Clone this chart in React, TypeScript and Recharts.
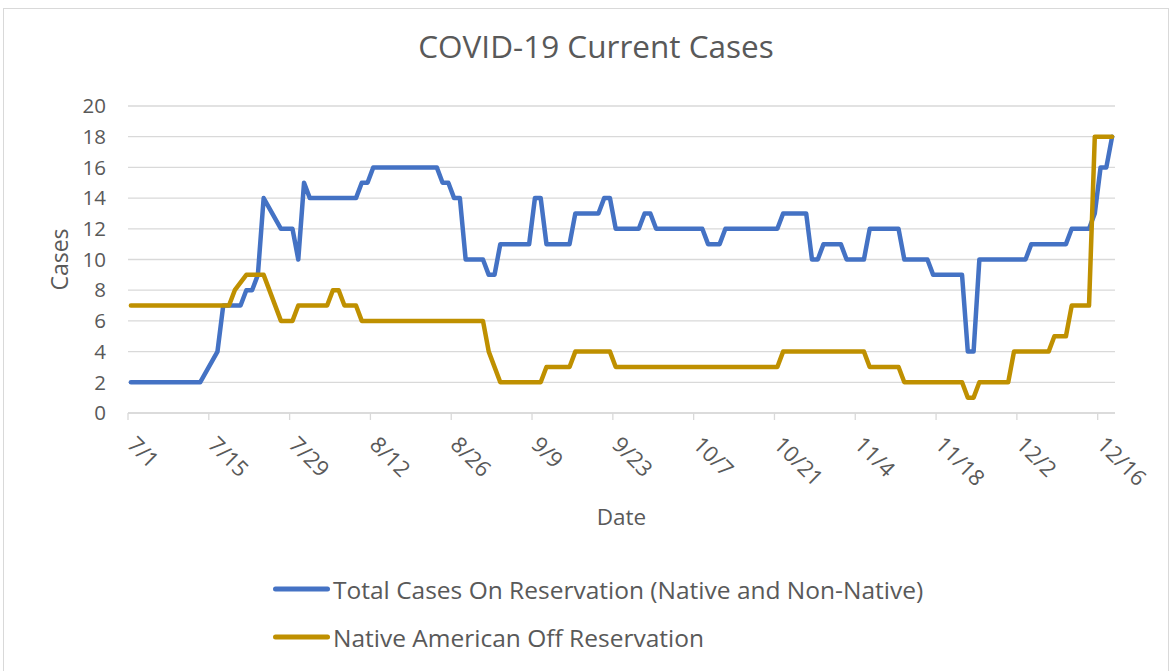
import React from 'react';
import { LineChart, Line, XAxis, YAxis, CartesianGrid, Legend, Label } from 'recharts';

// Day offsets counted from 7/1
const totalDays = [0, 12, 15, 16, 19, 20, 21, 22, 23, 26, 28, 29, 30, 31, 39, 40, 41, 42, 53, 54, 55, 56, 57, 58, 61, 62, 63, 64, 69, 70, 71, 72, 76, 77, 81, 82, 83, 84, 88, 89, 90, 91, 99, 100, 102, 103, 112, 113, 117, 118, 119, 120, 123, 124, 127, 128, 133, 134, 138, 139, 144, 145, 146, 147, 155, 156, 162, 163, 166, 167, 168, 169, 170];
const totalCases = [2, 2, 4, 7, 7, 8, 8, 9, 14, 12, 12, 10, 15, 14, 14, 15, 15, 16, 16, 15, 15, 14, 14, 10, 10, 9, 9, 11, 11, 14, 14, 11, 11, 13, 13, 14, 14, 12, 12, 13, 13, 12, 12, 11, 11, 12, 12, 13, 13, 10, 10, 11, 11, 10, 10, 12, 12, 10, 10, 9, 9, 4, 4, 10, 10, 11, 11, 12, 12, 13, 16, 16, 18];

const nativeDays = [0, 17, 18, 20, 23, 26, 28, 29, 34, 35, 36, 37, 39, 40, 61, 62, 64, 71, 72, 76, 77, 83, 84, 112, 113, 127, 128, 133, 134, 144, 145, 146, 147, 152, 153, 159, 160, 162, 163, 166, 167, 170];
const nativeCases = [7, 7, 8, 9, 9, 6, 6, 7, 7, 8, 8, 7, 7, 6, 6, 4, 2, 2, 3, 3, 4, 4, 3, 3, 4, 4, 3, 3, 2, 2, 1, 1, 2, 2, 4, 4, 5, 5, 7, 7, 18, 18];

const tickDays = [0, 14, 28, 42, 56, 70, 84, 98, 112, 126, 140, 154, 168];
const tickLabels = ['7/1', '7/15', '7/29', '8/12', '8/26', '9/9', '9/23', '10/7', '10/21', '11/4', '11/18', '12/2', '12/16'];
const yTicks = [0, 2, 4, 6, 8, 10, 12, 14, 16, 18, 20];

const seriesNames = ['Total Cases On Reservation (Native and Non-Native)', 'Native American Off Reservation'];
const seriesColors = ['#4472C4', '#BF9000'];

// points sit in the middle of each day slot on the date axis
const totalData = totalDays.map((d, i) => ({ x: d + 0.5, y: totalCases[i] }));
const nativeData = nativeDays.map((d, i) => ({ x: d + 0.5, y: nativeCases[i] }));

const FONT = '"Open Sans", sans-serif';
const TEXT = '#595959';
const GRID = '#d9d9d9';

const DateTick = (props: any) => {
  const { x, y, payload } = props;
  const idx = tickDays.indexOf(payload.value);
  const label = idx >= 0 ? tickLabels[idx] : '';
  const ox = x - 2;
  const oy = y + 24;
  return (
    <text
      x={ox}
      y={oy}
      transform={`rotate(45, ${ox}, ${oy})`}
      textAnchor="start"
      fill={TEXT}
      fontSize={22}
      fontFamily={FONT}
    >
      {label}
    </text>
  );
};

const renderLegend = () => (
  <div>
    {seriesNames.map((name, i) => (
      <div key={name} style={{ display: 'flex', alignItems: 'center', height: 48 }}>
        <svg width={63} height={10} style={{ display: 'block' }}>
          <line x1={5.5} y1={5} x2={57.5} y2={5} stroke={seriesColors[i]} strokeWidth={5} strokeLinecap="round" />
        </svg>
        <span style={{ fontSize: 24.5, color: TEXT, fontFamily: FONT, whiteSpace: 'nowrap' }}>{name}</span>
      </div>
    ))}
  </div>
);

export default function App() {
  return (
    <div style={{ position: 'absolute', left: 0, top: 0, width: 1174, height: 671, overflow: 'hidden', background: '#fff' }}>
      <div
        style={{
          position: 'absolute',
          left: 3,
          top: 8,
          width: 1166,
          height: 720,
          border: `1px solid ${GRID}`,
          boxSizing: 'border-box',
        }}
      />
      <div
        style={{
          position: 'absolute',
          left: 0,
          width: 1192,
          top: 26,
          textAlign: 'center',
          fontFamily: FONT,
          fontSize: 31.5,
          color: TEXT,
          lineHeight: '40px',
          whiteSpace: 'nowrap',
        }}
      >
        COVID-19 Current Cases
      </div>
      <div style={{ position: 'absolute', left: 0, top: 0 }}>
        <LineChart width={1174} height={671} margin={{ top: 106, right: 59, left: 0, bottom: 138 }}>
          <CartesianGrid horizontal vertical={false} stroke={GRID} strokeWidth={1.3} />
          <XAxis
            type="number"
            dataKey="x"
            domain={[0, 171]}
            ticks={tickDays}
            allowDataOverflow
            interval={0}
            height={120}
            axisLine={{ stroke: GRID, strokeWidth: 1.3 }}
            tickLine={{ stroke: GRID, strokeWidth: 1.3 }}
            tickSize={7}
            tick={<DateTick />}
          >
            <Label
              content={(p: any) => {
                const vb = p.viewBox || {};
                return (
                  <text
                    x={vb.x + vb.width / 2}
                    y={vb.y + 103}
                    textAnchor="middle"
                    dominantBaseline="central"
                    fill={TEXT}
                    fontSize={22.5}
                    fontFamily={FONT}
                  >
                    Date
                  </text>
                );
              }}
            />
          </XAxis>
          <YAxis
            type="number"
            domain={[0, 20]}
            ticks={yTicks}
            interval={0}
            width={128}
            axisLine={false}
            tickLine={false}
            tickSize={6}
            tickMargin={16}
            tick={{ fill: TEXT, fontSize: 20.5, fontFamily: FONT }}
          >
            <Label
              content={(p: any) => {
                const vb = p.viewBox || {};
                const cy = vb.y + vb.height / 2;
                return (
                  <text
                    x={59}
                    y={cy}
                    transform={`rotate(-90, 59, ${cy})`}
                    textAnchor="middle"
                    dominantBaseline="central"
                    fill={TEXT}
                    fontSize={23}
                    fontFamily={FONT}
                  >
                    Cases
                  </text>
                );
              }}
            />
          </YAxis>
          <Legend
            layout="horizontal"
            verticalAlign="middle"
            align="center"
            wrapperStyle={{ top: 565, left: 270, width: 'auto' }}
            content={renderLegend}
          />
          <Line
            data={totalData}
            dataKey="y"
            name={seriesNames[0]}
            type="linear"
            stroke={seriesColors[0]}
            strokeWidth={4.5}
            strokeLinejoin="round"
            strokeLinecap="round"
            dot={false}
            activeDot={false}
            isAnimationActive={false}
          />
          <Line
            data={nativeData}
            dataKey="y"
            name={seriesNames[1]}
            type="linear"
            stroke={seriesColors[1]}
            strokeWidth={4.5}
            strokeLinejoin="round"
            strokeLinecap="round"
            dot={false}
            activeDot={false}
            isAnimationActive={false}
          />
        </LineChart>
      </div>
    </div>
  );
}
